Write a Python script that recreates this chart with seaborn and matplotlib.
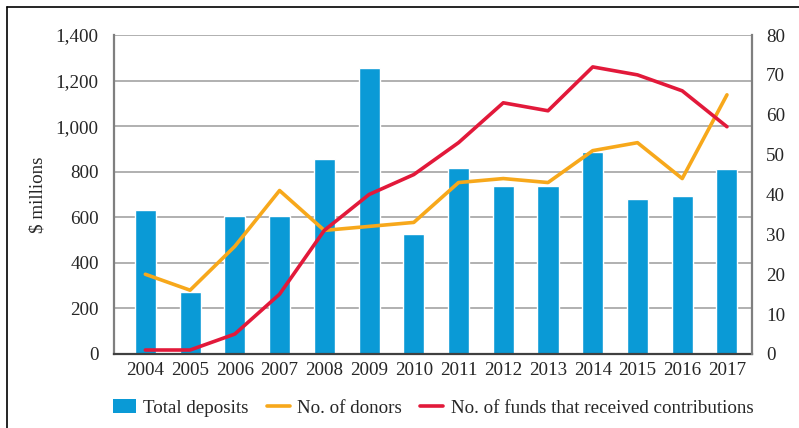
import numpy as np
import pandas as pd
import seaborn as sns
import matplotlib.pyplot as plt
from matplotlib.patches import Patch
from matplotlib.lines import Line2D

years = [str(y) for y in range(2004, 2018)]
deposits = [630, 270, 605, 605, 855, 1255, 527, 816, 737, 737, 886, 680, 693, 812]
donors = [20, 16, 27, 41, 31, 32, 33, 43, 44, 43, 51, 53, 44, 65]
funds = [1, 1, 5, 15, 31, 40, 45, 53, 63, 61, 72, 70, 66, 57]

blue = "#0A9AD6"
orange = "#F7A81B"
red = "#E2193A"
fs = 13.7

sns.set_style("white")
plt.rcParams['font.family'] = ['Liberation Serif', 'DejaVu Serif']

df = pd.DataFrame({"year": years, "deposits": deposits,
                   "donors": donors, "funds": funds, "pos": np.arange(len(years))})

fig = plt.figure(figsize=(7.99, 4.28), dpi=100)
ax = fig.add_axes([0.1427, 0.1729, 0.9412 - 0.1427, 0.9182 - 0.1729])

sns.barplot(data=df, x="year", y="deposits", color=blue, width=0.47,
            saturation=1, ax=ax)
ax.set_ylim(0, 1400)
ax.set_yticks(range(0, 1401, 200))
ax.set_yticklabels([f"{v:,}" for v in range(0, 1401, 200)])
ax.set_xlim(-0.70, 13.56)
ax.grid(axis="y", color="#AAAAAA", lw=1.3)
ax.set_axisbelow(True)
ax.set_xlabel("")
ax.set_ylabel("$ millions", fontsize=fs, labelpad=7)
ax.tick_params(axis="y", length=0, pad=11, labelsize=fs)
ax.tick_params(axis="x", length=0, pad=6, labelsize=fs)

ax2 = ax.twinx()
sns.lineplot(data=df, x="pos", y="donors", color=orange, lw=2.6, ax=ax2)
sns.lineplot(data=df, x="pos", y="funds", color=red, lw=2.6, ax=ax2)
ax2.set_ylim(0, 80)
ax2.set_yticks(range(0, 81, 10))
ax2.set_xlim(-0.70, 13.56)
ax2.set_ylabel("")
ax2.tick_params(axis="y", length=0, pad=10, labelsize=fs)

for a in (ax, ax2):
    for s in a.spines.values():
        s.set_visible(False)
ax.spines["left"].set_visible(True)
ax.spines["left"].set_color("#7F7F7F")
ax.spines["left"].set_linewidth(1.6)
ax.spines["bottom"].set_visible(True)
ax.spines["bottom"].set_color("#404040")
ax.spines["bottom"].set_linewidth(1.6)
ax2.spines["right"].set_visible(True)
ax2.spines["right"].set_color("#7F7F7F")
ax2.spines["right"].set_linewidth(1.6)

handles = [Patch(facecolor=blue, edgecolor="none"),
           Line2D([0], [0], color=orange, lw=2.6),
           Line2D([0], [0], color=red, lw=2.6)]
labels = ["Total deposits", "No. of donors", "No. of funds that received contributions"]
fig.legend(handles, labels, loc="center", bbox_to_anchor=(0.542, 0.047), ncol=3,
           frameon=False, fontsize=fs, handlelength=1.2, columnspacing=0.95,
           handletextpad=0.4)

# frame lines along top and left
fig.add_artist(Line2D([0.009, 1.0], [0.983, 0.983], color="black", lw=1.2,
                      transform=fig.transFigure))
fig.add_artist(Line2D([0.009, 0.009], [0.0, 0.983], color="black", lw=1.2,
                      transform=fig.transFigure))

fig.savefig("out.png", dpi=100)
